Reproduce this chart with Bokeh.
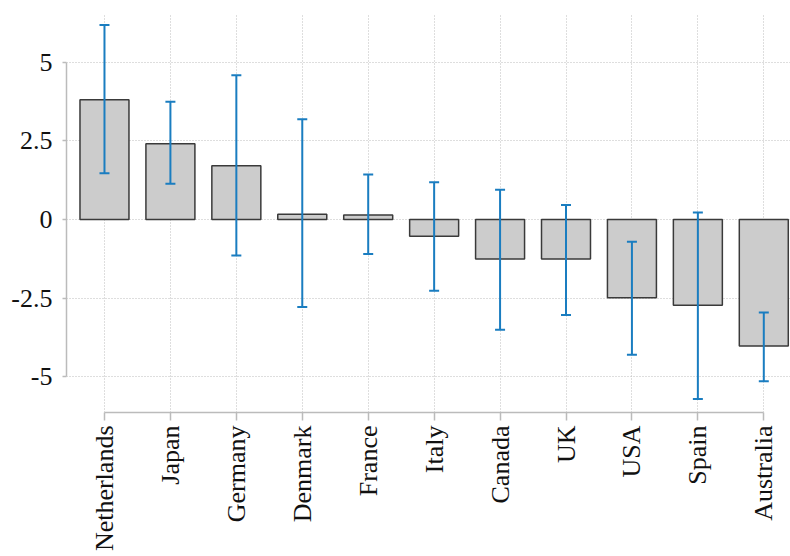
from bokeh.plotting import figure
from bokeh.models import ColumnDataSource, Whisker, TeeHead, FixedTicker, Range1d
from bokeh.embed import file_html
from bokeh.resources import INLINE
import math

countries = ["Netherlands", "Japan", "Germany", "Denmark", "France", "Italy",
             "Canada", "UK", "USA", "Spain", "Australia"]
values = [3.81, 2.41, 1.71, 0.17, 0.14, -0.53, -1.26, -1.26, -2.49, -2.73, -4.03]
upper = [6.19, 3.75, 4.59, 3.19, 1.43, 1.19, 0.95, 0.46, -0.71, 0.22, -2.96]
lower = [1.47, 1.14, -1.15, -2.79, -1.10, -2.27, -3.51, -3.04, -4.31, -5.72, -5.15]
y_ticks = [-5, -2.5, 0, 2.5, 5]
y_tick_labels = ["-5", "-2.5", "0", "2.5", "5"]

xpos = list(range(len(countries)))
src = ColumnDataSource(dict(x=xpos, top=values, upper=upper, lower=lower))

p = figure(width=790, height=556, output_backend="svg", toolbar_location=None,
           x_range=Range1d(-0.576, 10.405), y_range=Range1d(-6.146, 6.56),
           min_border_left=66, min_border_right=0, min_border_top=13, min_border_bottom=144)
p.outline_line_color = None
p.background_fill_color = "white"
p.border_fill_color = "white"

p.vbar(x="x", top="top", bottom=0, width=0.743, source=src,
       fill_color="#cccccc", line_color="#3a3a3a", line_width=1.5)

w = Whisker(base="x", upper="upper", lower="lower", source=src, level="overlay",
            line_color="#1a7dc0", line_width=2,
            upper_head=TeeHead(size=10, line_color="#1a7dc0", line_width=2),
            lower_head=TeeHead(size=10, line_color="#1a7dc0", line_width=2))
p.add_layout(w)

font = "Liberation Serif"
p.xaxis.ticker = FixedTicker(ticks=xpos)
p.xaxis.major_label_overrides = {i: c for i, c in zip(xpos, countries)}
p.xaxis.major_label_orientation = math.pi / 2
p.xaxis.bounds = (0, len(countries) - 1)
p.xaxis.major_tick_out = 8
p.xaxis.major_tick_in = 0
p.xaxis.minor_tick_out = 0
p.xaxis.major_label_standoff = 5

p.yaxis.ticker = FixedTicker(ticks=y_ticks)
p.yaxis.major_label_overrides = {t: l for t, l in zip(y_ticks, y_tick_labels)}
p.yaxis.bounds = (-5, 5)
p.yaxis.major_tick_out = 4
p.yaxis.major_tick_in = 0
p.yaxis.minor_tick_out = 0
p.yaxis.minor_tick_in = 0
p.yaxis.major_label_standoff = 10

for ax in (p.xaxis[0], p.yaxis[0]):
    ax.axis_line_color = "#bbbbbb"
    ax.axis_line_width = 1.5
    ax.major_tick_line_color = "#bbbbbb"
    ax.major_tick_line_width = 1.5
    ax.major_label_text_font = font
    ax.major_label_text_font_size = "26px"
    ax.major_label_text_color = "#111111"

p.xgrid.ticker = FixedTicker(ticks=xpos)
p.ygrid.ticker = FixedTicker(ticks=y_ticks)
for g in (p.xgrid[0], p.ygrid[0]):
    g.grid_line_color = "#bdbdbd"
    g.grid_line_dash = "1 2"
    g.grid_line_width = 1

open("out.html", "w").write(file_html(p, INLINE))
